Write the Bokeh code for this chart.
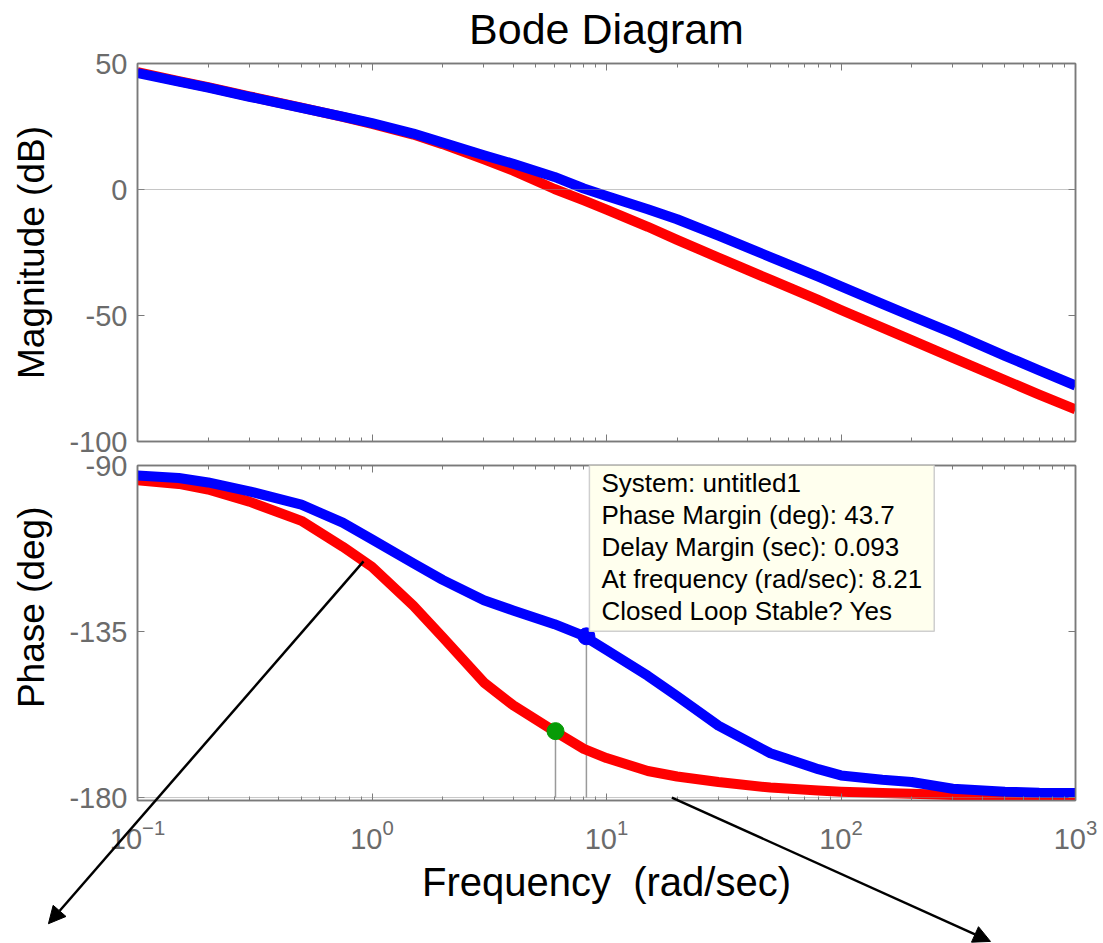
from bokeh.plotting import figure
from bokeh.layouts import column
from bokeh.models import (LogAxis, LinearAxis, LogTicker, FixedTicker, Span, Label,
                          Arrow, NormalHead, Range1d, LogTickFormatter, PrintfTickFormatter)
from bokeh.embed import file_html
from bokeh.resources import INLINE

# ---------------- data ----------------
freq = [0.1, 0.15, 0.2, 0.3, 0.5, 0.75, 1, 1.5, 2, 3, 4, 6, 8, 10, 15, 20, 30, 50,
        80, 100, 150, 200, 300, 500, 700, 1000]
mag_red = [46.6, 43.0, 40.6, 37.0, 32.5, 28.8, 26.0, 21.8, 18.0, 12.0, 7.5, 0.2, -4.3,
           -8.0, -14.8, -20.0, -27.0, -35.8, -43.8, -47.8, -54.8, -59.8, -66.8, -75.6,
           -81.4, -87.3]
mag_blue = [46.2, 42.8, 40.4, 36.8, 32.4, 28.9, 26.3, 22.2, 18.6, 13.6, 10.2, 5.0, 0.4,
            -2.6, -7.8, -11.8, -18.3, -26.8, -34.6, -38.4, -45.4, -50.2, -57.0, -66.0,
            -71.8, -77.8]
phase_red = [-94.0, -95.0, -96.5, -99.8, -105.0, -112.0, -117.5, -128.0, -136.5, -148.8,
             -155.0, -162.0, -166.8, -169.3, -172.8, -174.3, -175.8, -177.3, -178.1,
             -178.4, -178.8, -179.0, -179.3, -179.6, -179.7, -179.8]
phase_blue = [-92.7, -93.4, -94.6, -97.0, -100.6, -105.5, -110.0, -116.5, -121.0, -126.5,
              -129.3, -133.0, -136.2, -140.0, -147.0, -152.5, -160.5, -168.0, -172.3,
              -174.0, -175.2, -175.8, -177.6, -178.4, -178.7, -178.8]

mag_ticks = [-100, -50, 0, 50]
phase_ticks = [-180, -135, -90]

pm_freq = [6.06, 8.21]          # red (green dot), blue
pm_phase = [-162.0, -136.3]
pm_floor = [-180, -180]

tip_lines = ["System: untitled1",
             "Phase Margin (deg): 43.7",
             "Delay Margin (sec): 0.093",
             "At frequency (rad/sec): 8.21",
             "Closed Loop Stable? Yes"]

# arrows (in phase-panel data units: rad/sec, deg)
arrow_start_x = [0.92, 19.0]
arrow_start_y = [-116.0, -180.0]
arrow_end_x = [0.0417, 434.0]
arrow_end_y = [-214.2, -219.0]

# ---------------- layout constants ----------------
FONT = "Liberation Sans"
GREY = "#7a7a7a"
TICK_GREY = "#6b6b6b"
W = 1103
LEFT, RIGHT = 137, 28
X_RANGE = (0.1, 1000)
MAG_RANGE = (-100, 50)
PH_RANGE = (-180.8, -90)
TOP1 = 63            # magnitude frame top
FRAME1_H = 378       # magnitude frame height
OVERLAP = 33
GAP_TOP2 = 24        # phase panel border above its frame
FRAME2_H = 335
BOTTOM2 = 143
H1 = TOP1 + FRAME1_H + OVERLAP
H2 = GAP_TOP2 + FRAME2_H + BOTTOM2
TOTAL_H = H1 - OVERLAP + H2
Y2_TOP = TOP1 + FRAME1_H + GAP_TOP2
TITLE_MID = 28       # title centre, pixels from the top
NBSP = "\u00a0"


def style_axis(ax, labels):
    ax.axis_line_color = GREY
    ax.axis_line_width = 1.5
    ax.major_tick_in = 7
    ax.major_tick_out = 0
    ax.minor_tick_in = 4
    ax.minor_tick_out = 0
    ax.major_tick_line_color = GREY
    ax.minor_tick_line_color = GREY
    ax.major_label_text_font = FONT
    ax.major_label_text_color = TICK_GREY
    if labels:
        ax.major_label_text_font_size = "29px"
        ax.major_label_standoff = 10
    else:
        ax.major_label_text_font_size = "1px"
        ax.major_label_text_alpha = 0
        ax.major_label_standoff = 0
    ax.axis_label_text_font = FONT
    ax.axis_label_text_font_style = "normal"
    ax.axis_label_text_font_size = "37px"
    ax.axis_label_text_color = "black"


def make_fig(height, yr, yticks, ylabel, top, bottom, xlabels, xlabel):
    p = figure(width=W, height=height, x_axis_type="log", x_range=Range1d(*X_RANGE),
               y_range=Range1d(*yr), x_axis_location=None, y_axis_location=None,
               output_backend="svg", toolbar_location=None,
               min_border_left=LEFT, min_border_right=RIGHT,
               min_border_top=top, min_border_bottom=bottom)
    p.xgrid.visible = False
    p.ygrid.visible = False
    p.outline_line_color = GREY
    p.outline_line_width = 1.5
    p.background_fill_color = "white"
    p.border_fill_color = "white"

    left = LinearAxis(ticker=FixedTicker(ticks=yticks, minor_ticks=[]), axis_label=ylabel,
                      formatter=PrintfTickFormatter(format="%d"))
    style_axis(left, True)
    left.axis_label_standoff = 14
    p.add_layout(left, "left")
    right = LinearAxis(ticker=FixedTicker(ticks=yticks, minor_ticks=[]))
    style_axis(right, False)
    p.add_layout(right, "right")

    below = LogAxis(ticker=LogTicker(mantissas=[1], num_minor_ticks=10),
                    formatter=LogTickFormatter())
    style_axis(below, xlabels)
    if xlabel:
        below.axis_label = xlabel
        below.axis_label_text_font_size = "40px"
        below.axis_label_standoff = 8
        below.major_label_standoff = 18
    p.add_layout(below, "below")
    above = LogAxis(ticker=LogTicker(mantissas=[1], num_minor_ticks=10))
    style_axis(above, False)
    p.add_layout(above, "above")
    return p


# ---------------- magnitude ----------------
p1 = make_fig(H1, MAG_RANGE, mag_ticks, "Magnitude (dB)", TOP1, OVERLAP, False, None)
p1.add_layout(Span(location=0, dimension="width", line_color="#8c8c8c",
                   line_dash="1 1", line_width=1))
p1.line(freq, mag_red, line_color="#ff0000", line_width=10, line_join="round")
p1.line(freq, mag_blue, line_color="#0000ff", line_width=10, line_join="round")

# ---------------- phase ----------------
p2 = make_fig(H2, PH_RANGE, phase_ticks, NBSP * 5 + "Phase (deg)", GAP_TOP2, BOTTOM2,
              True, "Frequency" + NBSP + " (rad/sec)")
p2.border_fill_color = None
p2.styles = {"margin-top": f"-{OVERLAP}px"}
p2.add_layout(Span(location=-180, dimension="width", line_color="#8c8c8c",
                   line_dash="1 1", line_width=1))
p2.segment(x0=pm_freq, y0=pm_phase, x1=pm_freq, y1=pm_floor, line_color="#9a9a9a",
           line_width=1.5)
p2.line(freq, phase_red, line_color="#ff0000", line_width=10, line_join="round")
p2.line(freq, phase_blue, line_color="#0000ff", line_width=10, line_join="round")
p2.scatter(x=pm_freq[:1], y=pm_phase[:1], size=17, fill_color="#079b07",
           line_color="#079b07")
p2.scatter(x=pm_freq[1:], y=pm_phase[1:], size=17, fill_color="#0000ff",
           line_color="#0000ff")

p2.add_layout(Label(x=pm_freq[1], y=pm_phase[1], x_offset=3, y_offset=5,
                    text="\n".join(tip_lines), text_align="left", text_baseline="bottom",
                    text_font=FONT, text_font_size="26px", text_color="black",
                    text_line_height=1.07,
                    background_fill_color="#ffffee", border_line_color="#cfcfcf",
                    border_line_width=1.5, level="overlay",
                    padding=dict(left=12, right=12, top=10, bottom=5)))

# ------- transparent full-page overlay using the phase panel's scales (title + arrows) -------
dec_px = (W - LEFT - RIGHT) / 4.0                      # pixels per decade
deg_px = FRAME2_H / (PH_RANGE[1] - PH_RANGE[0])          # pixels per degree
ov_x = (10 ** (-1 - LEFT / dec_px), 10 ** (3 + RIGHT / dec_px))
ov_y = (PH_RANGE[1] - (TOTAL_H - Y2_TOP) / deg_px, PH_RANGE[1] + Y2_TOP / deg_px)
ov = figure(width=W, height=TOTAL_H, x_axis_type="log", x_range=Range1d(*ov_x),
            y_range=Range1d(*ov_y), x_axis_location=None, y_axis_location=None,
            output_backend="svg", toolbar_location=None, title=None,
            min_border_left=0, min_border_right=0, min_border_top=0, min_border_bottom=0)
ov.xgrid.visible = False
ov.ygrid.visible = False
ov.outline_line_color = None
ov.background_fill_color = None
ov.border_fill_color = None
ov.styles = {"position": "absolute", "top": "0px", "left": "0px"}

ov.add_layout(Label(x=10, y=ov_y[1] - TITLE_MID / deg_px, text="Bode Diagram",
                    text_align="center", text_baseline="middle", text_font=FONT,
                    text_font_size="43px", text_color="black"))
for xs, ys, xe, ye in zip(arrow_start_x, arrow_start_y, arrow_end_x, arrow_end_y):
    ov.add_layout(Arrow(x_start=xs, y_start=ys, x_end=xe, y_end=ye,
                        line_color="black", line_width=2.5,
                        end=NormalHead(size=17, fill_color="black", line_color="black",
                                       line_width=1)))

layout = column(p1, p2, spacing=0)
open("out.html", "w").write(file_html([layout, ov], INLINE))
